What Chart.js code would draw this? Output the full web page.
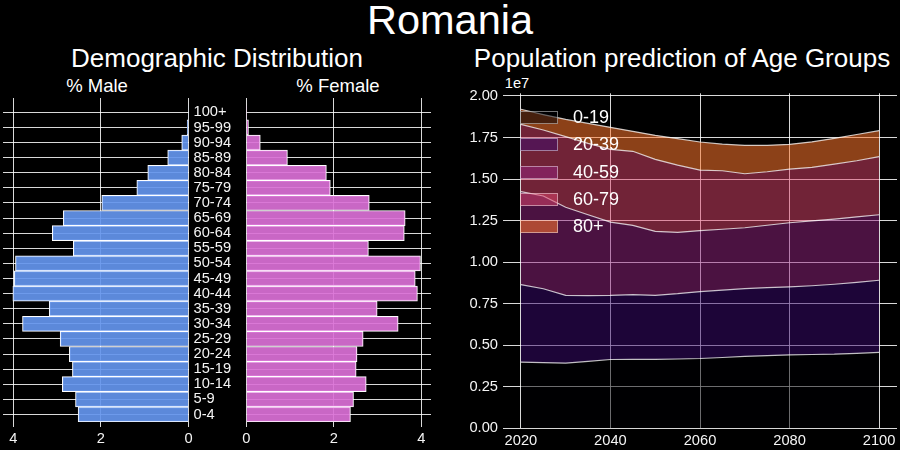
<!DOCTYPE html>
<html>
<head>
<meta charset="utf-8">
<title>Romania</title>
<script src="https://cdn.jsdelivr.net/npm/chart.js@4"></script>
<style>
  html, body { margin: 0; padding: 0; background: #000; overflow: hidden; }
  body { position: relative; width: 900px; height: 450px; font-family: "Liberation Sans", Arial, sans-serif; color: #fff; }
  .box { position: absolute; }
  .txt { position: absolute; white-space: nowrap; transform: translate(-50%, -50%); line-height: 1; }
  #legend .swatch { position: absolute; left: 520px; width: 38px; height: 13px; box-sizing: border-box; border: 1px solid rgba(255,255,255,0.45); }
  #legend .name { position: absolute; left: 573px; font-size: 18px; line-height: 1; transform: translateY(-50%); }
</style>
</head>
<body>
<div class="txt" style="left:450px;top:20px;font-size:41.5px">Romania</div>
<div class="txt" style="left:217px;top:58px;font-size:26px">Demographic Distribution</div>
<div class="txt" style="left:682px;top:58px;font-size:26px">Population prediction of Age Groups</div>
<div class="txt" style="left:97px;top:86px;font-size:18.5px">% Male</div>
<div class="txt" style="left:338px;top:86px;font-size:18.5px">% Female</div>
<div class="txt" style="left:517px;top:83px;font-size:14.7px">1e7</div>

<div class="box" style="left:0;top:90px;width:240px;height:360px"><canvas id="male"></canvas></div>
<div class="box" style="left:240px;top:90px;width:200px;height:360px"><canvas id="female"></canvas></div>
<div class="box" style="left:460px;top:85px;width:440px;height:365px"><canvas id="area"></canvas></div>
<div id="legend"></div>

<script>
const ageGroups = ["0-4", "5-9", "10-14", "15-19", "20-24", "25-29", "30-34", "35-39", "40-44", "45-49",
  "50-54", "55-59", "60-64", "65-69", "70-74", "75-79", "80-84", "85-89", "90-94", "95-99", "100+"];
const malePct = [2.52, 2.58, 2.88, 2.65, 2.72, 2.93, 3.79, 3.18, 4.01, 3.98,
  3.95, 2.63, 3.11, 2.86, 1.98, 1.18, 0.93, 0.475, 0.155, 0.03, 0.01];
const femalePct = [2.38, 2.45, 2.74, 2.51, 2.53, 2.67, 3.47, 2.99, 3.91, 3.86,
  3.98, 2.79, 3.61, 3.63, 2.81, 1.92, 1.83, 0.94, 0.32, 0.05, 0.01];

const years = [2020, 2025, 2030, 2035, 2040, 2045, 2050, 2055, 2060, 2065, 2070, 2075, 2080, 2085, 2090, 2095, 2100];
const age0to19 = [3980000, 3950000, 3920000, 4030000, 4140000, 4150000, 4150000, 4170000, 4200000, 4260000, 4330000, 4370000, 4420000, 4440000, 4460000, 4510000, 4570000];
const age20to39 = [4670000, 4450000, 4080000, 3950000, 3860000, 3900000, 3850000, 3930000, 4030000, 4060000, 4080000, 4090000, 4090000, 4140000, 4210000, 4270000, 4340000];
const age40to59 = [5590000, 5580000, 5300000, 4870000, 4410000, 4160000, 3850000, 3690000, 3660000, 3660000, 3660000, 3760000, 3860000, 3900000, 3920000, 3940000, 3940000];
const age60to79 = [4050000, 3970000, 4250000, 4300000, 4380000, 4460000, 4330000, 4050000, 3650000, 3520000, 3250000, 3220000, 3230000, 3220000, 3310000, 3380000, 3500000];
const age80plus = [910000, 930000, 1040000, 1200000, 1320000, 1200000, 1450000, 1590000, 1690000, 1600000, 1710000, 1590000, 1490000, 1540000, 1550000, 1580000, 1560000];

const bandNames = ["0-19", "20-39", "40-59", "60-79", "80+"];
const bandValues = [age0to19, age20to39, age40to59, age60to79, age80plus];
const bandColors = ["rgba(0,0,4,0.5)", "rgba(58,10,112,0.5)", "rgba(150,36,130,0.5)", "rgba(226,70,110,0.5)", "rgba(255,118,44,0.55)"];

const gridColor = "rgba(255,255,255,0.85)";
const font = { family: '"Liberation Sans", Arial, sans-serif', size: 14.7 };

Chart.defaults.animation = false;
Chart.defaults.responsive = true;
Chart.defaults.maintainAspectRatio = false;
Chart.defaults.plugins.legend.display = false;
Chart.defaults.plugins.tooltip.enabled = false;

// the plot areas have to line up with the picture, so no label overflow padding
function noPadding(s) {
  s.paddingTop = 0;
  s.paddingBottom = 0;
  s.paddingLeft = 0;
  s.paddingRight = 0;
}

function pyramid(id, values, color, xMax, reverse, padding, showLabels) {
  const ctx = document.getElementById(id).getContext("2d");
  return new Chart(ctx, {
    type: "bar",
    data: {
      datasets: [{
        data: values.map((v, i) => ({ x: v, y: i })),
        backgroundColor: color,
        borderColor: "#fff",
        borderWidth: 1,
        barPercentage: 1,
        categoryPercentage: 1,
      }],
    },
    options: {
      indexAxis: "y",
      layout: { padding },
      scales: {
        x: {
          type: "linear",
          min: 0,
          max: xMax,
          reverse,
          border: { display: false },
          grid: { color: gridColor, tickColor: gridColor, tickLength: 5 },
          ticks: { color: "#f4f4f4", font, padding: 3, maxRotation: 0 },
          afterBuildTicks: (s) => { s.ticks = [0, 2, 4].map((value) => ({ value })); },
          afterFit: (s) => { s.height = 28; noPadding(s); },
        },
        y: {
          type: "linear",
          position: "right",
          min: -0.5,
          max: 20.95,
          offset: false,
          border: { display: false },
          grid: { color: gridColor, drawTicks: false, offset: false },
          ticks: {
            display: showLabels,
            autoSkip: false,
            color: "#f4f4f4",
            font,
            padding: 5,
            callback: (v) => ageGroups[v],
          },
          afterBuildTicks: (s) => { s.ticks = ageGroups.map((_, value) => ({ value })); },
          afterFit: (s) => { s.width = showLabels ? 51.5 : 0; noPadding(s); },
        },
      },
    },
  });
}

pyramid("male", malePct, "rgba(100,149,237,0.92)", 4.235, true, { left: 3, top: 8 }, true);
pyramid("female", femalePct, "rgba(218,112,214,0.92)", 4.22, false, { left: 6.3, right: 9, top: 8 }, false);

const areaChart = new Chart(document.getElementById("area").getContext("2d"), {
  type: "line",
  data: {
    datasets: bandNames.map((name, i) => ({
      label: name,
      data: bandValues[i].map((v, j) => ({ x: years[j], y: v })),
      backgroundColor: bandColors[i],
      borderColor: "rgba(255,255,255,0.75)",
      borderWidth: 1.2,
      pointRadius: 0,
      tension: 0,
      fill: i === 0 ? "origin" : "-1",
    })),
  },
  options: {
    layout: { padding: { right: 3, top: 8.3 } },
    scales: {
      x: {
        type: "linear",
        min: 2016,
        max: 2104,
        border: { display: false },
        grid: { color: gridColor, drawTicks: false },
        ticks: { color: "#f4f4f4", font, padding: 4, maxRotation: 0, callback: (v) => String(v) },
        afterBuildTicks: (s) => { s.ticks = [2020, 2040, 2060, 2080, 2100].map((value) => ({ value })); },
        afterFit: (s) => { s.height = 21.7; noPadding(s); },
      },
      y: {
        type: "linear",
        stacked: true,
        min: 0,
        max: 20160000,
        border: { display: false },
        grid: { color: gridColor, drawTicks: false },
        ticks: { color: "#f4f4f4", font, padding: 5, autoSkip: false, callback: (v) => (v / 1e7).toFixed(2) },
        afterBuildTicks: (s) => {
          s.ticks = [0, 2500000, 5000000, 7500000, 10000000, 12500000, 15000000, 17500000, 20000000].map((value) => ({ value }));
        },
        afterFit: (s) => { s.width = 43; noPadding(s); },
      },
    },
  },
});

// legend sits on top of the plot, the patches stay see-through
const legendTops = [111, 138, 165.5, 193, 220];
document.getElementById("legend").innerHTML = bandNames.map((name, i) =>
  `<div class="swatch" style="top:${legendTops[i]}px;background:${bandColors[i]}"></div>` +
  `<div class="name" style="top:${legendTops[i] + 6}px">${name}</div>`
).join("");
</script>
</body>
</html>
